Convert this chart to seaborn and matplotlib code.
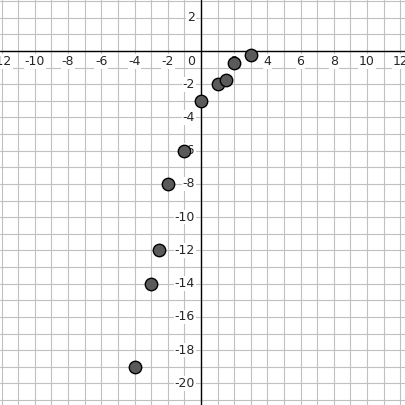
import matplotlib
matplotlib.use("Agg")
import matplotlib.pyplot as plt
import seaborn as sns
import numpy as np
import pandas as pd

xs = [-4, -3, -2.5, -2, -1, 0, 1, 1.5, 2, 3]
ys = [-19, -14, -12, -8, -6, -3, -2, -1.75, -0.75, -0.25]
xticks = [-12, -10, -8, -6, -4, -2, 2, 4, 6, 8, 10, 12]
yticks = [2, -2, -4, -6, -8, -10, -12, -14, -16, -18, -20]

sns.set_style("white")
fig = plt.figure(figsize=(4.06, 4.05), dpi=100)
ax = fig.add_axes([0, 0, 1, 1])
xmin, xmax, ymin, ymax = -12.1, 12.35, -21.3, 3.07
for v in range(-12, 13):
    ax.axvline(v, color="#c0c0c0", lw=0.8, zorder=0)
for v in range(-21, 4):
    ax.axhline(v, color="#c0c0c0", lw=0.8, zorder=0)
ax.axhline(0, color="black", lw=1, zorder=1)
ax.axvline(0, color="black", lw=1, zorder=1)
df = pd.DataFrame({"x": xs, "y": ys})
sns.scatterplot(data=df, x="x", y="y", ax=ax, s=80, color="#5a5a5a",
                edgecolor="black", linewidth=1, zorder=3)
for t in xticks:
    ax.text(t, -0.25, str(t), ha="center", va="top", fontsize=9,
            bbox=dict(fc="white", ec="none", pad=0.5), zorder=2)
for t in yticks:
    ax.text(-0.35, t, str(t), ha="right", va="center", fontsize=9,
            bbox=dict(fc="white", ec="none", pad=0.5), zorder=2)
ax.text(-0.35, -0.25, "0", ha="right", va="top", fontsize=9, zorder=2)
ax.set_xlim(xmin, xmax)
ax.set_ylim(ymin, ymax)
ax.set_xticks([]); ax.set_yticks([])
ax.set_xlabel(""); ax.set_ylabel("")
for s in ax.spines.values():
    s.set_visible(False)
fig.savefig("out.png", dpi=100)
